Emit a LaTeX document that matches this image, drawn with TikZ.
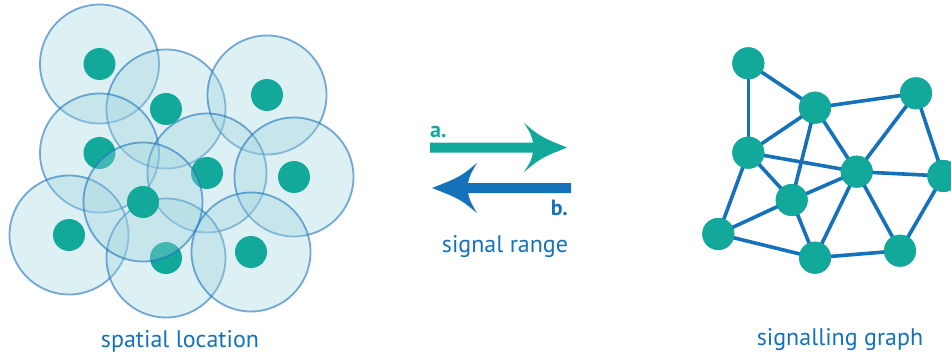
\documentclass[tikz,border=0pt]{standalone}
\usepackage{fontspec}
\newfontfamily\labfont{PT Sans}
\definecolor{teal1}{RGB}{18,168,154}
\definecolor{blue1}{RGB}{22,113,187}
\definecolor{cfill}{RGB}{158,212,222}
\definecolor{cedge}{RGB}{30,115,190}
\begin{document}
\begin{tikzpicture}[x=1pt,y=-1pt,
  rangecirc/.style={circle,minimum size=119pt,inner sep=0pt,fill=cfill,fill opacity=0.35,draw=cedge,draw opacity=0.6,line width=1.8pt},
  dot/.style={circle,minimum size=32pt,inner sep=0pt,fill=teal1},
  gedge/.style={draw=blue1,line width=3.6pt},
  lab/.style={font=\labfont\fontsize{24}{28}\selectfont,text=blue1,inner sep=0pt},
  blab/.style={font=\labfont\bfseries\fontsize{22}{26}\selectfont,inner sep=0pt}]
\useasboundingbox (0,0) rectangle (951,353);
\clip (0,0) rectangle (951,353);
% range circles
\node[rangecirc] (r1) at (99.5,64) {};
\node[rangecirc] (r2) at (166,109) {};
\node[rangecirc] (r3) at (267,95) {};
\node[rangecirc] (r4) at (99.5,153) {};
\node[rangecirc] (r5) at (207,173) {};
\node[rangecirc] (r6) at (294,177) {};
\node[rangecirc] (r8) at (69,235) {};
\node[rangecirc] (r9) at (166,258) {};
\node[rangecirc] (r10) at (251,252) {};
% dots
\node[dot] (d1) at (99.5,64) {};
\node[dot] (d2) at (166,109) {};
\node[dot] (d3) at (267,95) {};
\node[dot] (d4) at (99.5,153) {};
\node[dot] (d5) at (207,173) {};
\node[dot] (d6) at (294,177) {};
\node[dot] (d8) at (69,235) {};
\node[dot] (d9) at (166,258) {};
\node[dot] (d10) at (251,252) {};
\node[rangecirc] (r7) at (143,202) {};
\node[dot] (d7) at (143,202) {};
\node[lab,anchor=base] (t1) at (180,347) {spatial location};
% arrows
\fill[teal1] (430,142.5) -- (533,142.5) .. controls (531,134) .. (524,123)
  .. controls (541,137) .. (567,147.5) .. controls (541,158) .. (524,172)
  .. controls (531,161) .. (533,152.5) -- (430,152.5) -- cycle;
\fill[blue1] (571,183) -- (468,183) .. controls (470,175) .. (477,163)
  .. controls (460,177) .. (432,188) .. controls (460,199) .. (477,213)
  .. controls (470,201) .. (468,193) -- (571,193) -- cycle;
\node[blab,text=teal1,anchor=base west] (la) at (430,137) {a.};
\node[blab,text=blue1,anchor=base east] (lb) at (568,215) {b.};
\node[lab,anchor=base] (t2) at (505,252) {signal range};
% graph
\node[dot] (A) at (748.3,63.3) {};
\node[dot] (B) at (815,107.7) {};
\node[dot] (C) at (916,93.3) {};
\node[dot] (D) at (748.3,152.7) {};
\node[dot] (E) at (856.7,171.7) {};
\node[dot] (F) at (943.3,176) {};
\node[dot] (G) at (791.7,200) {};
\node[dot] (H) at (718.3,234) {};
\node[dot] (I) at (815,257.7) {};
\node[dot] (J) at (900,250.7) {};
\foreach \a/\b in {A/B,A/D,B/C,B/D,B/G,B/E,C/E,C/F,D/E,D/G,D/H,G/E,E/F,E/I,E/J,J/F,G/H,G/I,H/I,I/J}
  \draw[gedge] (\a.center) -- (\b.center);
\foreach \n in {A,B,C,D,E,F,G,H,I,J}
  \fill[teal1] (\n) circle (16pt);
\node[lab,anchor=base] (t3) at (840,345) {signalling graph};
\end{tikzpicture}
\end{document}
